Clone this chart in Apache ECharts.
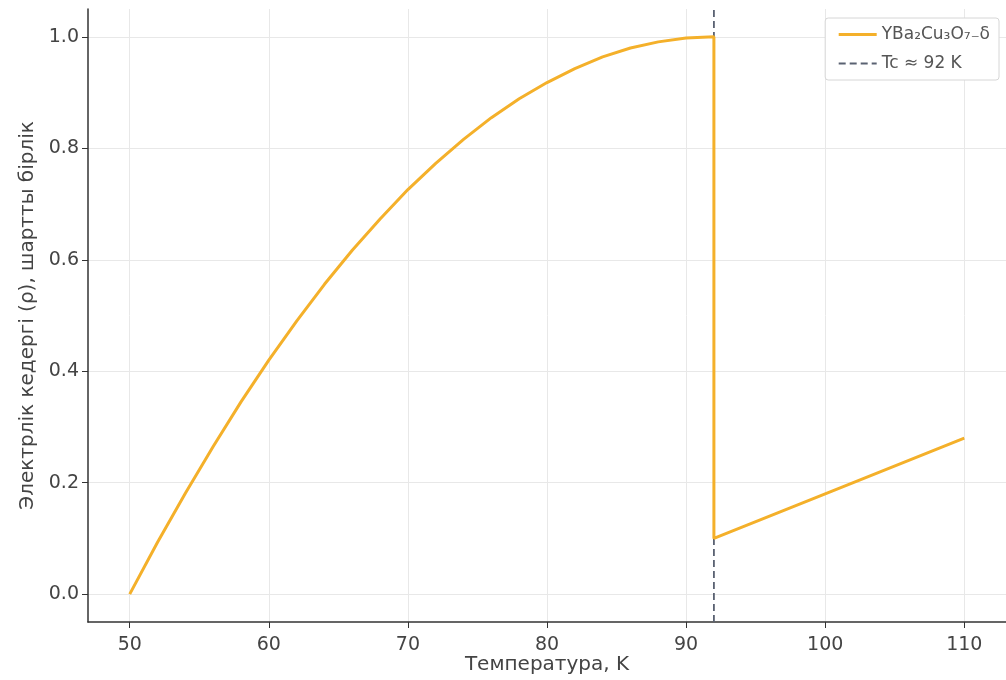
<!DOCTYPE html>
<html><head><meta charset="utf-8">
<script src="https://cdn.jsdelivr.net/npm/echarts@6/dist/echarts.min.js"></script>
<style>html,body{margin:0;padding:0;background:#fff}#c{width:1006px;height:680px}</style>
</head><body><div id="c"></div>
<script>
// Temperature (K) and resistance (arb. units)
const temps = [50,52,54,56,58,60,62,64,66,68,70,72,74,76,78,80,82,84,86,88,90,92,92,100,110];
const resistance = [0.0,0.093,0.181,0.265,0.345,0.420,0.490,0.556,0.617,0.673,0.726,0.773,0.816,0.855,0.889,0.918,0.943,0.964,0.980,0.991,0.998,1.0,0.10,0.18,0.28];
const tcTemp = 92;
const tcSpan = [-0.05, 1.05];
const xTicks = [50,60,70,80,90,100,110];
const yTicks = [0,0.2,0.4,0.6,0.8,1.0];
const seriesName = 'YBa₂Cu₃O₇₋δ';
const tcName = 'Tc ≈ 92 K';

const chart = echarts.init(document.getElementById('c'));
const font = 'DejaVu Sans';
chart.setOption({
  animation: false,
  textStyle: {fontFamily: font},
  grid: {left: 88, right: 0, top: 9, bottom: 58, containLabel: false, outerBoundsMode: 'none'},
  legend: {
    right: 7, top: 18, orient: 'vertical',
    backgroundColor: '#fff', borderColor: '#d6d6d6', borderWidth: 1, borderRadius: 3,
    padding: [8, 9, 8, 12], itemGap: 12, itemWidth: 38, itemHeight: 18,
    itemStyle: {opacity: 0},
    lineStyle: {width: 3},
    textStyle: {fontFamily: font, fontSize: 17, color: '#555'},
    data: [seriesName, {name: tcName, lineStyle: {width: 2}}]
  },
  xAxis: {
    type: 'value', min: 47, max: 113,
    name: 'Температура, K', nameLocation: 'middle', nameGap: 33, nameMoveOverlap: false,
    nameTextStyle: {fontFamily: font, fontSize: 20, color: '#444', verticalAlign: 'top'},
    axisLine: {show: true, onZero: false, lineStyle: {color: '#333', width: 1.5}},
    axisTick: {show: true, length: 6, customValues: xTicks, lineStyle: {color: '#333'}},
    axisLabel: {customValues: xTicks, margin: 14, fontFamily: font, fontSize: 19, color: '#444'},
    splitLine: {show: true, lineStyle: {color: '#e8e8e8', width: 1}}
  },
  yAxis: {
    type: 'value', min: -0.05, max: 1.05,
    name: 'Электрлік кедергі (ρ), шартты бірлік', nameLocation: 'middle', nameGap: 46,
    nameTextStyle: {fontFamily: font, fontSize: 20, color: '#444'},
    axisLine: {show: true, onZero: false, lineStyle: {color: '#333', width: 1.5}},
    axisTick: {show: true, length: 6, customValues: yTicks, lineStyle: {color: '#333'}},
    axisLabel: {customValues: yTicks, margin: 9, fontFamily: font, fontSize: 19, color: '#444',
      formatter: v => v.toFixed(1)},
    splitLine: {show: true, lineStyle: {color: '#e8e8e8', width: 1}}
  },
  series: [
    {
      name: seriesName, type: 'line', symbol: 'none', smooth: false,
      lineStyle: {color: '#f4b02a', width: 3}, itemStyle: {color: '#f4b02a'},
      data: temps.map((t, i) => [t, resistance[i]]), z: 3
    },
    {
      name: tcName, type: 'line', symbol: 'none',
      lineStyle: {color: '#5a6272', width: 1.8, type: [7, 4]}, itemStyle: {color: '#5a6272'},
      data: tcSpan.map(v => [tcTemp, v]), z: 2
    }
  ]
});
</script></body></html>
